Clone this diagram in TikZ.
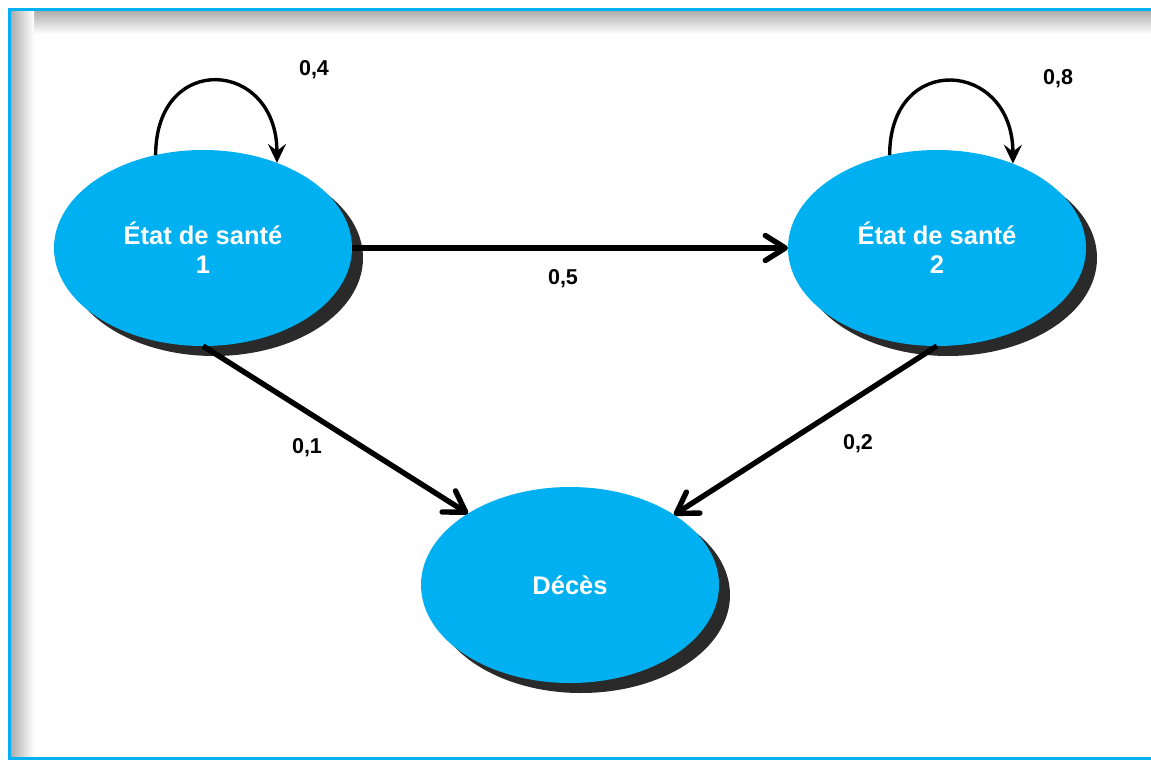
\documentclass[tikz,border=0pt]{standalone}
\usepackage{fontspec}
\setmainfont{Liberation Sans}
\usetikzlibrary{arrows.meta,shapes.geometric,shadows}
\definecolor{etatblue}{HTML}{00B0F0}
\definecolor{ombre}{HTML}{2A2A2A}
\tikzset{
  etat/.style={ellipse, fill=etatblue, text=white, align=center,
    minimum width=298pt, minimum height=196pt, inner sep=0pt, outer sep=0pt,
    font=\fontsize{25.5}{29}\selectfont\bfseries,
    drop shadow={shadow xshift=11pt, shadow yshift=-10pt, fill=ombre, opacity=1}},
  proba/.style={font=\fontsize{21.5}{24}\selectfont\bfseries, inner sep=0pt},
  pil/.style={line width=5.4pt, -{Straight Barb[length=20pt,width=25pt,round]}},
  boucle/.style={line width=3.4pt, -{Stealth[length=19pt,width=18pt,inset=7pt]}}
}
\begin{document}
\begin{tikzpicture}[x=1pt,y=-1pt]
\useasboundingbox (0,0) rectangle (1151,760);
\clip (0,0) rectangle (1151,760);
\fill[white] (0,0) rectangle (1151,760);

% cadre
\shade[top color=black!32, bottom color=white] (11,11) rectangle (1151,34);
\shade[left color=black!32, right color=white] (11,11) rectangle (34,757);
\fill[white] (34,34) rectangle (1151,757);
\draw[etatblue, line width=3pt] (9,10) rectangle (1165,758.5);

% etats
\node[etat] (e1) at (203,248) {État de santé\\1};
\node[etat] (e2) at (937,248) {État de santé\\2};
\node[etat] (dc) at (570,585) {Décès};

% transitions
\draw[boucle] (e1.117) .. controls +(0,-104) and +(0,-104) .. (e1.49);
\draw[boucle] (e2.117) .. controls +(0,-104) and +(0,-104) .. (e2.48);
\draw[pil] (e1) -- (e2);
\draw[pil] (e1.south) -- (dc.145);
\draw[pil] (e2.south) -- (dc.34);

\node[proba] (p11) at (314,70) {0,4};
\node[proba] (p22) at (1058,79) {0,8};
\node[proba] (p12) at (563,279) {0,5};
\node[proba] (p13) at (307,448) {0,1};
\node[proba] (p23) at (858,444) {0,2};
\end{tikzpicture}
\end{document}
